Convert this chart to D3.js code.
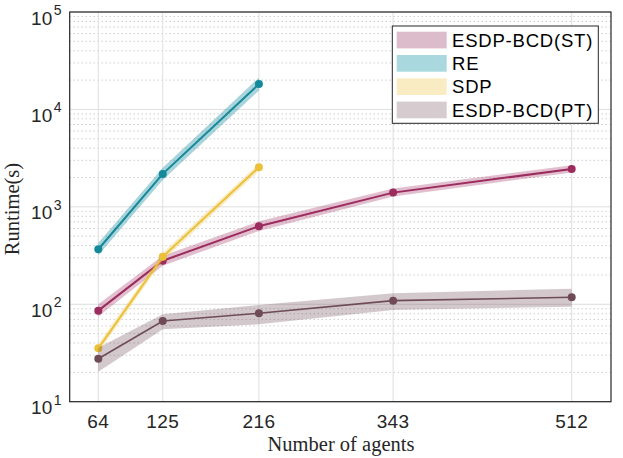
<!DOCTYPE html>
<html>
<head>
<meta charset="utf-8">
<script src="https://cdn.jsdelivr.net/npm/d3@7"></script>
<style>
  body { margin: 0; background: #fff; }
  svg { display: block; }
  .tick-label { font-family: 'Liberation Sans', Arial, sans-serif; font-size: 19px; letter-spacing: 0.4px; fill: #262626; }
  .axis-title { font-family: 'Liberation Serif', 'DejaVu Serif', serif; font-size: 20.5px; fill: #262626; }
  .legend-label { font-family: 'Liberation Sans', Arial, sans-serif; font-size: 18.5px; letter-spacing: 0.8px; fill: #000; }
</style>
</head>
<body>
<svg id="chart" width="623" height="458"></svg>
<script>
///////////////
/// DATA ///
///////////////

// x ticks (number of agents)
const agents = [64, 125, 216, 343, 512];
const agentsShort = [64, 125, 216];

// ESDP-BCD(ST)
const stMean = [86, 280, 632, 1400, 2450];
const stLow  = [75, 249, 565, 1275, 2250];
const stHigh = [100, 315, 710, 1545, 2680];

// RE (only up to 216 agents)
const reMean = [367, 2180, 18200];
const reLow  = [318, 1890, 15600];
const reHigh = [425, 2520, 21200];

// SDP (only up to 216 agents)
const sdpMean = [35.3, 308, 2550];
const sdpLow  = [32, 280, 2330];
const sdpHigh = [39, 338, 2790];

// ESDP-BCD(PT)
const ptMean = [27.6, 67.4, 80.9, 109, 118];
const ptLow  = [20.3, 55.4, 62.3, 87.4, 94.5];
const ptHigh = [35.8, 78.9, 98.4, 129.7, 144.6];

// y ticks (decades)
const yTicks = [1e1, 1e2, 1e3, 1e4, 1e5];

const seriesNames = ['ESDP-BCD(ST)', 'RE', 'SDP', 'ESDP-BCD(PT)'];
const lineColors = ['#9c2b5e', '#14899a', '#ecc13a', '#6e4b57'];
const bandColors = ['#dcbccb', '#a9d8de', '#f9ebc2', '#d6cbce'];

///////////////////
/// SCALES ///
///////////////////

const svg = d3.select('#chart');
const plotLeft = 69.7, plotRight = 611, plotTop = 12, plotBottom = 401.7;

const xScale = d3.scaleLinear().domain([36.93, 549.2]).range([plotLeft, plotRight]);
const yScale = d3.scaleLog().domain([1e1, 1e5]).range([plotBottom, plotTop]);

///////////////////
/// GRID ///
///////////////////

const grid = svg.append('g').attr('id', 'grid');

// minor dotted grid
let minorTicks = [];
for (let k = 1; k < 5; k++) {
    for (let m = 2; m <= 9; m++) minorTicks.push(m * Math.pow(10, k));
}
grid.selectAll('.minor').data(minorTicks).enter()
    .append('line')
    .attr('class', 'minor')
    .attr('x1', plotLeft).attr('x2', plotRight)
    .attr('y1', function(d) {return yScale(d)})
    .attr('y2', function(d) {return yScale(d)})
    .attr('stroke', '#b4b4b4')
    .attr('stroke-width', 1)
    .attr('stroke-dasharray', '1 3');

// major grid
grid.selectAll('.major-y').data(yTicks).enter()
    .append('line')
    .attr('class', 'major-y')
    .attr('x1', plotLeft).attr('x2', plotRight)
    .attr('y1', function(d) {return yScale(d)})
    .attr('y2', function(d) {return yScale(d)})
    .attr('stroke', '#dedede')
    .attr('stroke-width', 1);

grid.selectAll('.major-x').data(agents).enter()
    .append('line')
    .attr('class', 'major-x')
    .attr('x1', function(d) {return xScale(d)})
    .attr('x2', function(d) {return xScale(d)})
    .attr('y1', plotTop).attr('y2', plotBottom)
    .attr('stroke', '#dedede')
    .attr('stroke-width', 1);

///////////////////
/// SERIES ///
///////////////////

function buildRows(xs, mean, low, high) {
    return xs.map(function(x, i) {return {x: x, m: mean[i], lo: low[i], hi: high[i]}});
}

const series = [
    buildRows(agents, stMean, stLow, stHigh),
    buildRows(agentsShort, reMean, reLow, reHigh),
    buildRows(agentsShort, sdpMean, sdpLow, sdpHigh),
    buildRows(agents, ptMean, ptLow, ptHigh)
];
const lineWidths = [2, 2, 2, 1.6];

const area = d3.area()
    .x(function(d) {return xScale(d.x)})
    .y0(function(d) {return yScale(d.lo)})
    .y1(function(d) {return yScale(d.hi)});

const line = d3.line()
    .x(function(d) {return xScale(d.x)})
    .y(function(d) {return yScale(d.m)});

const plot = svg.append('g').attr('id', 'series');

series.forEach(function(rows, j) {
    const g = plot.append('g');
    g.append('path')
        .attr('d', area(rows))
        .attr('fill', lineColors[j])
        .attr('fill-opacity', j == 1 ? 0.36 : 0.3);
    g.append('path')
        .attr('d', line(rows))
        .attr('fill', 'none')
        .attr('stroke', lineColors[j])
        .attr('stroke-width', lineWidths[j]);
    g.selectAll('circle').data(rows).enter()
        .append('circle')
        .attr('cx', function(d) {return xScale(d.x)})
        .attr('cy', function(d) {return yScale(d.m)})
        .attr('r', 4)
        .attr('fill', lineColors[j]);
});

///////////////////
/// AXES ///
///////////////////

// box
svg.append('rect')
    .attr('x', plotLeft).attr('y', plotTop)
    .attr('width', plotRight - plotLeft).attr('height', plotBottom - plotTop)
    .attr('fill', 'none')
    .attr('stroke', '#262626')
    .attr('stroke-width', 1.2);

// x tick labels
svg.append('g').selectAll('text').data(agents).enter()
    .append('text')
    .attr('class', 'tick-label')
    .attr('x', function(d) {return xScale(d)})
    .attr('y', 428)
    .attr('text-anchor', 'middle')
    .text(function(d) {return d});

// y tick labels: 10 with superscript exponent
const yLabels = svg.append('g').selectAll('text').data(yTicks).enter()
    .append('text')
    .attr('class', 'tick-label')
    .attr('x', 62)
    .attr('y', function(d) {return yScale(d) + 12.5})
    .attr('text-anchor', 'end');
yLabels.append('tspan').text('10');
yLabels.append('tspan')
    .attr('dy', -9.5)
    .attr('dx', 1)
    .style('font-size', '14px')
    .text(function(d) {return Math.round(Math.log10(d))});

// axis titles
svg.append('text')
    .attr('class', 'axis-title')
    .attr('x', 341)
    .attr('y', 451)
    .attr('text-anchor', 'middle')
    .text('Number of agents');

svg.append('text')
    .attr('class', 'axis-title')
    .attr('transform', 'translate(19,' + 209 + ') rotate(-90)')
    .attr('text-anchor', 'middle')
    .text('Runtime(s)');

///////////////////
/// LEGEND ///
///////////////////

const legend = svg.append('g').attr('id', 'legend');
legend.append('rect')
    .attr('x', 392.3).attr('y', 26)
    .attr('width', 206).attr('height', 97.3)
    .attr('fill', '#fff')
    .attr('stroke', '#262626')
    .attr('stroke-width', 1);

const entries = legend.selectAll('.legend-entry').data(seriesNames).enter()
    .append('g')
    .attr('class', 'legend-entry')
    .attr('transform', function(d, i) {return 'translate(0,' + (31.7 + i * 23.3) + ')'});

entries.append('rect')
    .attr('x', 396.7).attr('y', 0)
    .attr('width', 50).attr('height', 16.7)
    .attr('fill', function(d, i) {return bandColors[i]});

entries.append('text')
    .attr('class', 'legend-label')
    .attr('x', 452)
    .attr('y', 15)
    .text(function(d) {return d});
</script>
</body>
</html>
